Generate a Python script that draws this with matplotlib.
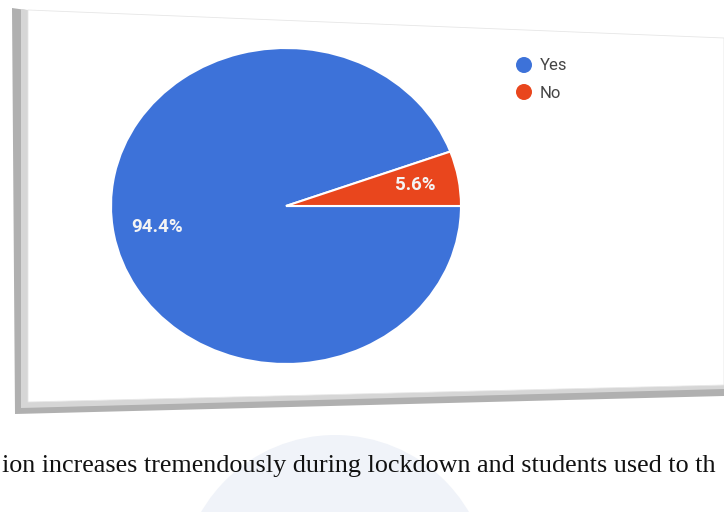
import matplotlib
matplotlib.use("Agg")
import matplotlib.pyplot as plt
from matplotlib.patches import Polygon, Ellipse, Circle

# Survey answers
labels = ["Yes", "No"]
shares = [94.4, 5.6]
colors = ["#3d72d9", "#e9461d"]
caption = "ion increases tremendously during lockdown and students used to th"

W, H = 724, 512
fig = plt.figure(figsize=(W / 100, H / 100), dpi=100)
fig.patch.set_facecolor("white")

# Page layer in pixel coordinates
bg = fig.add_axes([0, 0, 1, 1])
bg.set_xlim(0, W)
bg.set_ylim(H, 0)
bg.axis("off")

# faint watermark behind the caption
bg.add_patch(Circle((335, 590), 155, facecolor="#f0f3f9", edgecolor="none", zorder=0))

# card shadow (left and bottom) and the card itself
bg.add_patch(Polygon([(12, 8), (26, 10), (26, 404), (724, 386), (724, 396), (15, 414)],
                     closed=True, facecolor="#b0b0b0", edgecolor="none", zorder=1))
bg.add_patch(Polygon([(21, 9), (28, 10), (28, 402), (724, 385), (724, 389), (21, 408)],
                     closed=True, facecolor="#d6d6d6", edgecolor="none", zorder=1.5))
bg.add_patch(Polygon([(28, 10), (724, 38), (724, 385), (28, 402)],
                     closed=True, facecolor="white", edgecolor="#e6e6e6", lw=0.6, zorder=2))

# legend
for i, (lab, col) in enumerate(zip(labels, colors)):
    y = 65 + i * 27
    bg.add_patch(Ellipse((524, y), 16, 16, facecolor=col, edgecolor="none", zorder=3))
    bg.text(540, y + 1, lab, fontsize=12, color="#444444", va="center", ha="left",
            family="Roboto", zorder=3)

# caption line below the card
bg.text(2, 472, caption, fontsize=18.8, family="Liberation Serif", color="#111111",
        va="baseline", ha="left", zorder=3)

# pie chart
cx, cy, rx, ry = 286, 206, 175, 158
pax = fig.add_axes([(cx - rx) / W, (H - cy - ry) / H, 2 * rx / W, 2 * ry / H])
start = shares[1] / sum(shares) * 360
wedges, texts, autotexts = pax.pie(
    shares, colors=colors, startangle=start, counterclock=True,
    autopct="%.1f%%", pctdistance=0.75, radius=1,
    wedgeprops=dict(edgecolor="white", linewidth=1.5),
    textprops=dict(color="#f4f4f4", fontsize=13.5, fontweight="bold", family="Roboto"),
)
pax.set_aspect("auto")
pax.set_xlim(-1, 1)
pax.set_ylim(-1, 1)
pax.axis("off")

fig.savefig("out.png", dpi=100, facecolor="white")
